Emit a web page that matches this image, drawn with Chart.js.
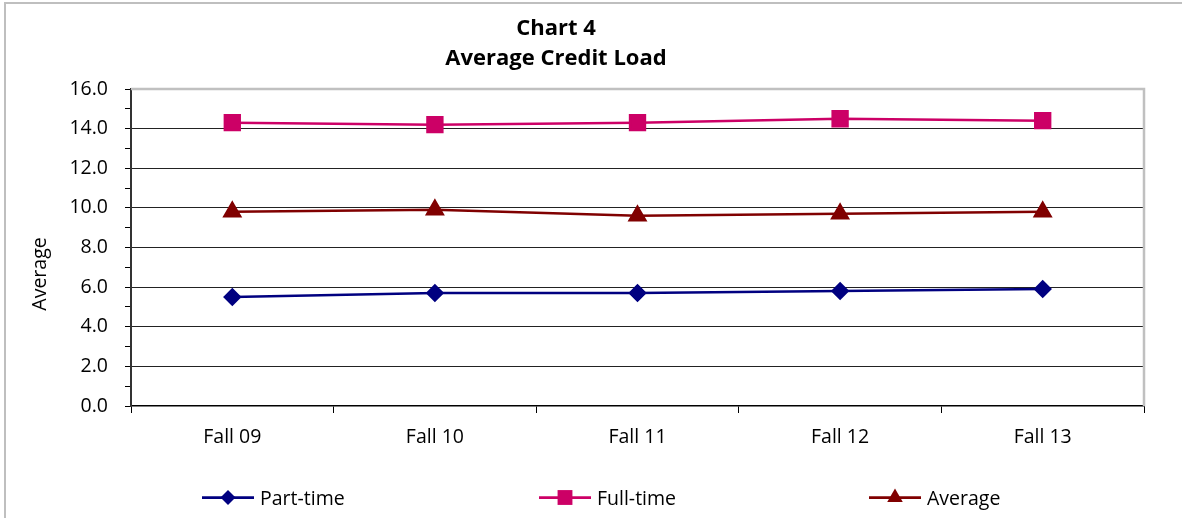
<!DOCTYPE html>
<html>
<head>
<meta charset="utf-8">
<script src="https://cdn.jsdelivr.net/npm/chart.js@4.4.1/dist/chart.umd.min.js"></script>
<style>
  html, body { margin: 0; padding: 0; background: #fff; }
  #wrap { width: 1182px; height: 518px; }
</style>
</head>
<body>
<div id="wrap"><canvas id="creditChart" width="1182" height="518"></canvas></div>
<script>
const terms = ["Fall 09", "Fall 10", "Fall 11", "Fall 12", "Fall 13"];
const partTime = [5.5, 5.7, 5.7, 5.8, 5.9];
const fullTime = [14.3, 14.2, 14.3, 14.5, 14.4];
const average = [9.8, 9.9, 9.6, 9.7, 9.8];
const titleLines = ["Chart 4", "Average Credit Load"];
const yAxisTitle = "Average";

const FONT = "'Open Sans', 'Noto Sans', sans-serif";
const FONT_SIZE = 19.5;

// outer chart border, plot frame (top/right), titles and the line+marker legend
const excelLook = {
  id: "excelLook",
  beforeDraw(chart) {
    const ctx = chart.ctx;
    ctx.save();
    ctx.fillStyle = "#fff";
    ctx.fillRect(0, 0, chart.width, chart.height);
    ctx.strokeStyle = "#bfbfbf";
    ctx.lineWidth = 2;
    ctx.beginPath();
    ctx.moveTo(5, chart.height);
    ctx.lineTo(5, 3);
    ctx.lineTo(chart.width, 3);
    ctx.stroke();
    ctx.restore();
  },
  beforeDatasetsDraw(chart) {
    const { ctx, chartArea } = chart;
    ctx.save();
    ctx.strokeStyle = "#c0c0c0";
    ctx.lineWidth = 2.5;
    ctx.beginPath();
    ctx.moveTo(chartArea.left, chartArea.top);
    ctx.lineTo(chartArea.right, chartArea.top);
    ctx.lineTo(chartArea.right, chartArea.bottom);
    ctx.stroke();
    ctx.restore();
  },
  afterDraw(chart) {
    const ctx = chart.ctx;
    ctx.save();
    ctx.fillStyle = "#000";
    ctx.textAlign = "center";
    ctx.textBaseline = "alphabetic";
    ctx.font = "bold 22px " + FONT;
    ctx.fillText(titleLines[0], 556, 35);
    ctx.fillText(titleLines[1], 556, 65);

    ctx.font = FONT_SIZE + "px " + FONT;
    ctx.save();
    ctx.translate(46, 274);
    ctx.rotate(-Math.PI / 2);
    ctx.fillText(yAxisTitle, 0, 0);
    ctx.restore();

    // legend
    const starts = [202, 539, 869];
    chart.data.datasets.forEach((ds, i) => {
      const x = starts[i], y = 497.5;
      ctx.strokeStyle = ds.borderColor;
      ctx.lineWidth = 2.75;
      ctx.beginPath();
      ctx.moveTo(x, y);
      ctx.lineTo(x + 52, y);
      ctx.stroke();
      ctx.fillStyle = ds.pointBackgroundColor;
      Chart.helpers.drawPoint(ctx, {
        pointStyle: ds.pointStyle,
        radius: ds.pointRadius,
        rotation: 0,
        borderWidth: 0
      }, x + 26, y);
      ctx.fillStyle = "#000";
      ctx.textAlign = "left";
      ctx.fillText(ds.label, x + 58, 504.5);
    });
    ctx.restore();
  }
};

new Chart(document.getElementById("creditChart"), {
  type: "line",
  data: {
    labels: terms,
    datasets: [
      {
        label: "Part-time",
        data: partTime,
        borderColor: "#000080",
        pointBackgroundColor: "#000080",
        pointBorderColor: "#000080",
        pointStyle: "rectRot",
        pointRadius: 7.5,
        borderWidth: 2.5
      },
      {
        label: "Full-time",
        data: fullTime,
        borderColor: "#cc0066",
        pointBackgroundColor: "#cc0066",
        pointBorderColor: "#cc0066",
        pointStyle: "rect",
        pointRadius: 10.5,
        borderWidth: 2.5
      },
      {
        label: "Average",
        data: average,
        borderColor: "#800000",
        pointBackgroundColor: "#800000",
        pointBorderColor: "#800000",
        pointStyle: "triangle",
        pointRadius: 9,
        borderWidth: 2.5
      }
    ]
  },
  options: {
    responsive: false,
    animation: false,
    devicePixelRatio: 1,
    layout: { padding: { left: 0, right: 38, top: 89, bottom: 52 } },
    elements: { line: { tension: 0 }, point: { borderWidth: 1, hoverRadius: 9 } },
    plugins: {
      legend: { display: false },
      title: { display: false },
      tooltip: { enabled: false }
    },
    scales: {
      x: {
        offset: true,
        grid: {
          offset: true,
          drawOnChartArea: false,
          tickLength: 7,
          tickColor: "#000",
          color: "#000"
        },
        border: { color: "#000", width: 1.5 },
        ticks: {
          color: "#000",
          padding: 13,
          font: { family: FONT, size: FONT_SIZE }
        },
        afterFit(scale) { scale.height = 60; }
      },
      y: {
        min: 0,
        max: 16,
        grid: {
          tickLength: 6,
          tickColor: "#000",
          color: (c) => (c.tick && c.tick.value % 2 === 0 && c.tick.value > 0 && c.tick.value < 16) ? "#222" : "rgba(0,0,0,0)",
          lineWidth: 1
        },
        border: { color: "#333", width: 2 },
        ticks: {
          stepSize: 1,
          autoSkip: false,
          color: "#000",
          padding: 17,
          font: { family: FONT, size: FONT_SIZE },
          callback: (v) => (v % 2 === 0 ? v.toFixed(1) : "")
        },
        afterFit(scale) { scale.width = 131; }
      }
    }
  },
  plugins: [excelLook]
});
</script>
</body>
</html>
